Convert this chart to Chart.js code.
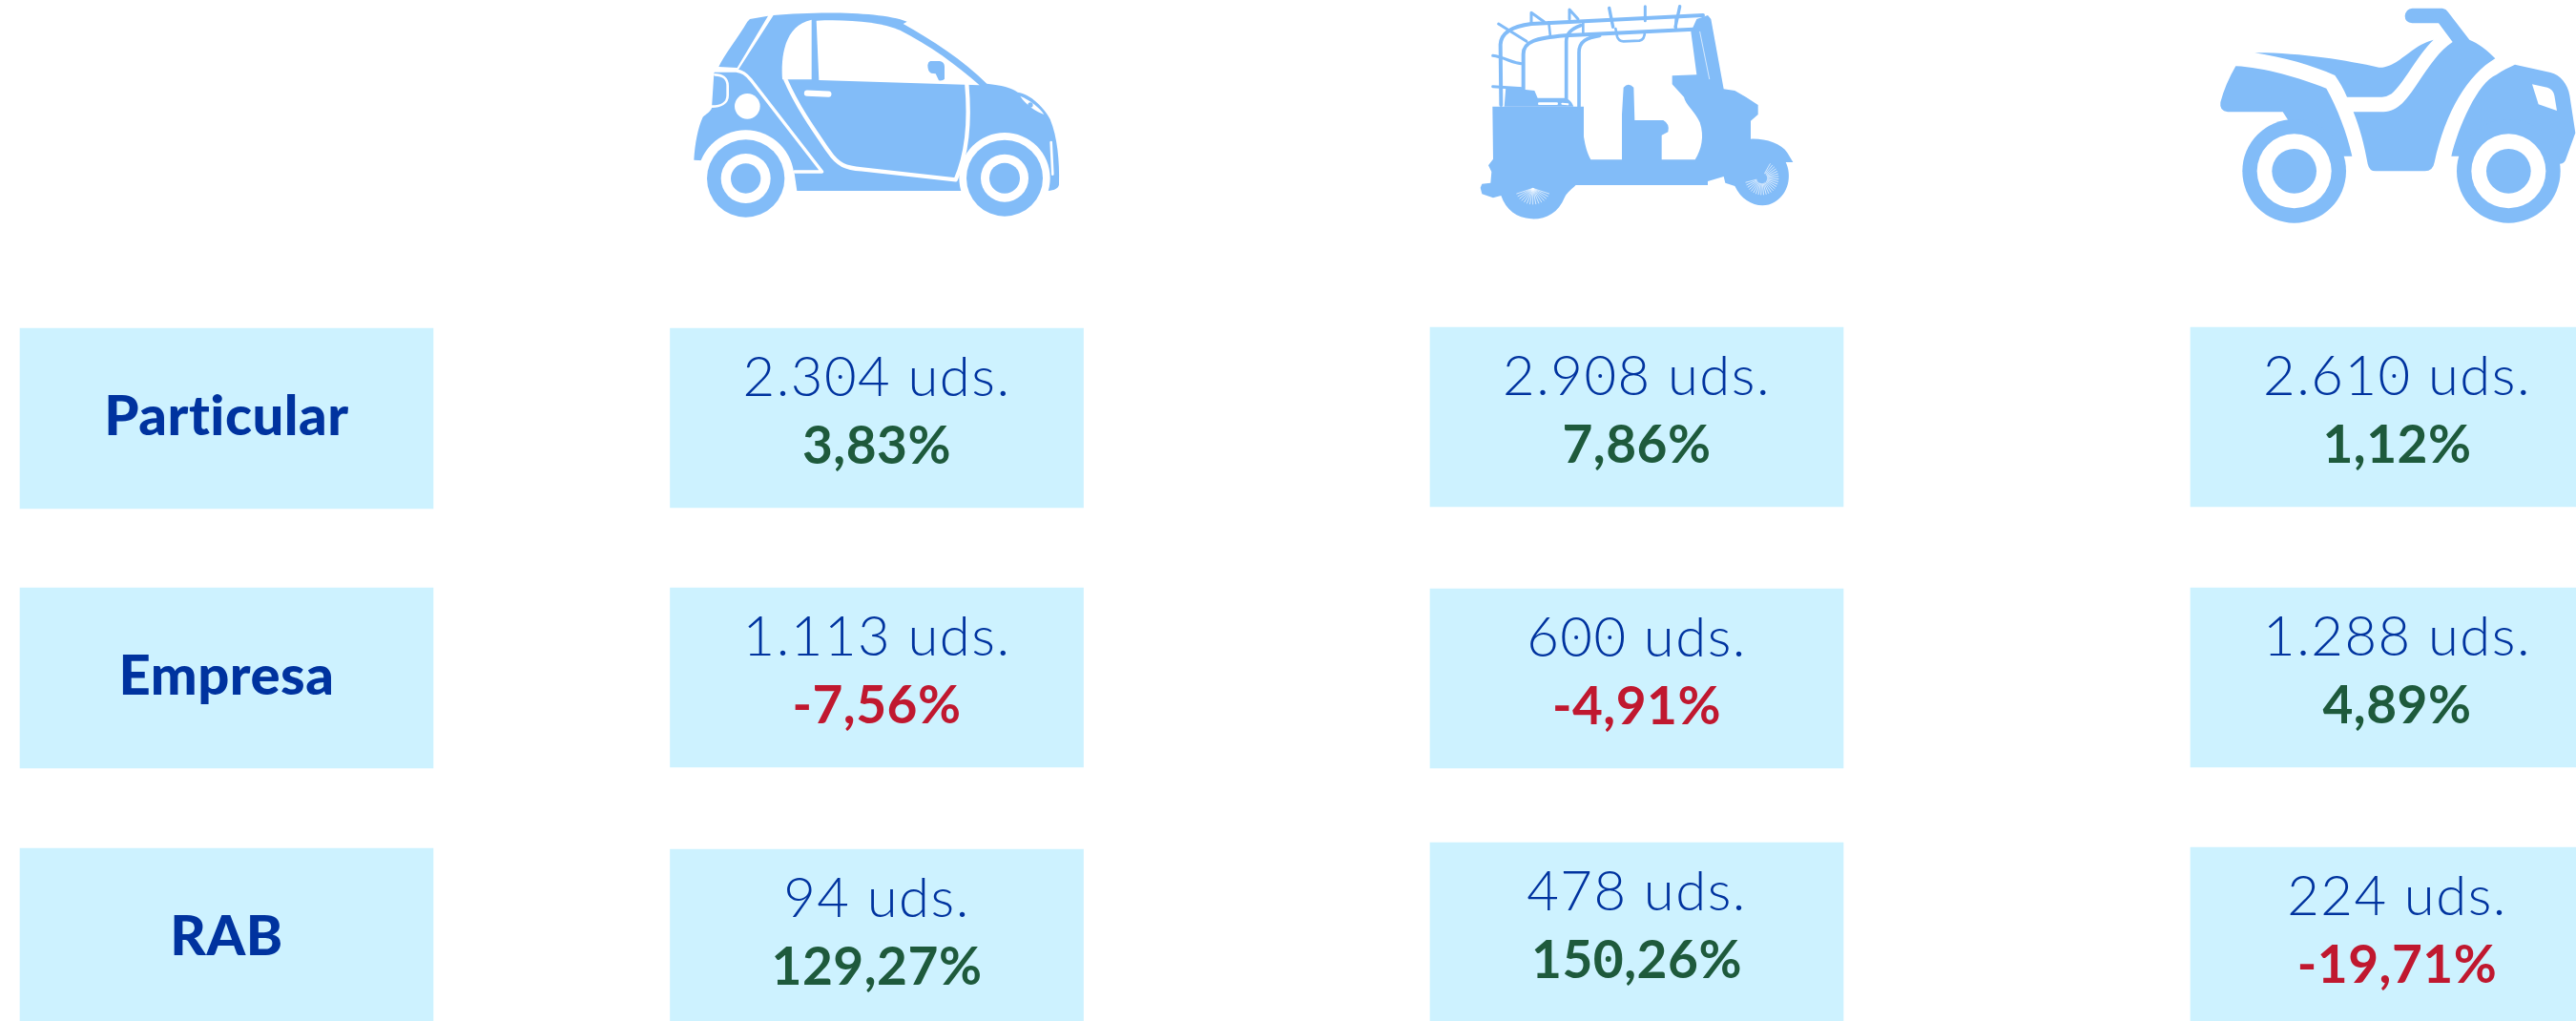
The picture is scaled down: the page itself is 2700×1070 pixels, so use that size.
<!DOCTYPE html>
<html>
<head>
<meta charset="utf-8">
<title>Particular, Empresa, RAB</title>
<script src="https://cdn.jsdelivr.net/npm/chart.js@4"></script>
<style>
html, body { margin: 0; padding: 0; background: #fff; overflow: hidden; }
#wrap { width: 2700px; height: 1070px; }
</style>
</head>
<body>
<div id="wrap"><canvas id="tabla" width="2700" height="1070"></canvas></div>
<script>
// datos
var filas = ['Particular', 'Empresa', 'RAB'];
var vehiculos = ['Coche', 'Mototaxi', 'Quad'];
var udsCoche = [2304, 1113, 94];
var udsMototaxi = [2908, 600, 478];
var udsQuad = [2610, 1288, 224];
var pctCoche = [3.83, -7.56, 129.27];
var pctMototaxi = [7.86, -4.91, 150.26];
var pctQuad = [1.12, 4.89, -19.71];

// layout of the table, in axis units (1 unit = 1px)
var anchoCelda = 433;
var centrosCol = [237.5, 919, 1715.5, 2512.5];
var topes = [
    [344, 344, 343, 343],
    [616, 616, 617, 616],
    [889, 890, 883, 888]
];
var bases = [
    [533, 532, 531, 531],
    [805, 804, 805, 804],
    [1070, 1070, 1070, 1070]
];

var AZUL = '#00339f', VERDE = '#1e5a3c', ROJO = '#c0182f', CELDA = '#cdf2ff', ICONO = '#82bcf8';
var udsPorVehiculo = [udsCoche, udsMototaxi, udsQuad];
var pctPorVehiculo = [pctCoche, pctMototaxi, pctQuad];

function miles(n) {
    return String(n).replace(/\B(?=(\d{3})+$)/g, '.');
}
function coma(n) {
    return n.toFixed(2).replace('.', ',') + '%';
}

var celdas = [];
var textos = [];
filas.forEach(function (fila, f) {
    celdas.push({ x: centrosCol[0], y: [topes[f][0], bases[f][0]] });
    textos.push({ nombre: fila });
    vehiculos.forEach(function (v, c) {
        celdas.push({ x: centrosCol[c + 1], y: [topes[f][c + 1], bases[f][c + 1]] });
        textos.push({ uds: miles(udsPorVehiculo[c][f]) + ' uds.', pct: coma(pctPorVehiculo[c][f]), neg: pctPorVehiculo[c][f] < 0 });
    });
});

// text with the dotted zero of the original typeface
function texto(ctx, s, cx, y, font, color, esp, rDot) {
    ctx.font = font;
    ctx.letterSpacing = esp + 'px';
    ctx.fillStyle = color;
    ctx.textAlign = 'left';
    ctx.textBaseline = 'alphabetic';
    var w = ctx.measureText(s).width;
    var x0 = cx - w / 2;
    ctx.fillText(s, x0, y);
    if (rDot) {
        for (var i = 0; i < s.length; i++) {
            if (s[i] === '0') {
                var a = ctx.measureText(s.slice(0, i)).width;
                var b = ctx.measureText('0').width - esp;
                ctx.beginPath();
                ctx.arc(x0 + a + b / 2, y - 20, rDot, 0, Math.PI * 2);
                ctx.fill();
            }
        }
    }
    ctx.letterSpacing = '0px';
}

var textosCeldas = {
    id: 'textosCeldas',
    afterDatasetsDraw: function (chart) {
        var ctx = chart.ctx;
        var meta = chart.getDatasetMeta(0);
        ctx.save();
        meta.data.forEach(function (bar, i) {
            var t = textos[i];
            var top = Math.min(bar.y, bar.base);
            if (t.nombre) {
                texto(ctx, t.nombre, bar.x, top + 112, '900 58px Lato', AZUL, 0.5, 0);
            } else {
                texto(ctx, t.uds, bar.x, top + 71, '300 58px Lato', AZUL, 1.5, 2);
                texto(ctx, t.pct, bar.x, top + 142, '700 55px Lato', t.neg ? ROJO : VERDE, 0.5, 3);
            }
        });
        ctx.restore();
    }
};

// silhouettes, coordinates in a 3x working grid
function circulo(ctx, x, y, r, color) {
    ctx.fillStyle = color;
    ctx.beginPath();
    ctx.arc(x, y, r, 0, Math.PI * 2);
    ctx.fill();
}
function relleno(ctx, d, color) {
    ctx.fillStyle = color;
    ctx.fill(new Path2D(d));
}
function trazo(ctx, d, color, w) {
    ctx.strokeStyle = color;
    ctx.lineWidth = w;
    ctx.lineCap = 'round';
    ctx.lineJoin = 'round';
    ctx.stroke(new Path2D(d));
}

function dibujaCoche(ctx) {
    relleno(ctx, 'M288,60 L345,50 L248,213 L190,210 C205,175 250,120 280,68 Z', ICONO);
    relleno(ctx, 'M362,48 C500,36 700,36 782,68 L770,75 C860,125 960,190 1033,263 C1080,268 1110,275 1130,290 C1170,295 1215,340 1232,375 C1255,430 1262,510 1260,575 C1262,592 1245,598 1225,600 L436,600 L428,545 L300,545 L140,505 L112,503 C115,450 125,400 140,368 C150,360 165,350 168,340 L175,232 L178,222 L250,222 Z', ICONO);
    relleno(ctx, 'M482,62 L482,250 L390,250 C385,180 395,80 482,62 Z', '#fff');
    relleno(ctx, 'M497,65 C600,60 700,70 760,95 C850,140 940,205 1010,268 L505,252 Z', '#fff');
    relleno(ctx, 'M855,192 L885,192 Q900,195 900,210 L900,248 Q895,255 882,253 L872,232 L858,230 Q847,225 847,205 Q848,195 855,192 Z', ICONO);
    trazo(ctx, 'M400,250 C440,340 490,410 535,475 C565,520 590,528 640,532 L935,565 C955,520 985,430 970,265', '#fff', 13);
    trazo(ctx, 'M468,293 L535,296', '#fff', 19);
    trazo(ctx, 'M178,222 L245,222 C265,225 275,232 290,250 L515,540 L428,540', '#fff', 10);
    trazo(ctx, 'M178,235 C200,235 218,245 218,270 L218,300 C218,325 195,335 168,335', '#fff', 8);
    circulo(ctx, 280, 334, 40, '#fff');
    relleno(ctx, 'M1138,302 C1170,315 1200,340 1213,360 C1190,352 1155,330 1138,302 Z', '#fff');
    circulo(ctx, 1170, 330, 8, ICONO);
    trazo(ctx, 'M1235,447 L1240,548', '#fff', 8);
    circulo(ctx, 1089, 560, 143, '#fff');
    circulo(ctx, 275, 561, 152, '#fff');
    [[275, 561, 122, 78, 47], [1089, 560, 120, 75, 48]].forEach(function (r) {
        circulo(ctx, r[0], r[1], r[2], ICONO);
        circulo(ctx, r[0], r[1], r[3], '#fff');
        circulo(ctx, r[0], r[1], r[4], ICONO);
    });
}

function dibujaMototaxi(ctx) {
    relleno(ctx, 'M103,335 L390,335 L390,430 C395,460 400,480 412,502 L510,502 L510,360 L515,275 Q530,258 547,275 L550,378 L640,378 Q662,390 655,415 L635,425 L635,502 L740,502 C760,470 770,430 755,385 C740,350 710,330 705,305 L668,265 L668,238 L745,235 L727,100 L745,60 L780,48 L790,60 L830,280 L865,285 L900,305 L938,330 L938,360 L915,380 L915,437 C960,435 1010,450 1030,480 L1048,510 L1025,510 C1045,550 1035,610 990,635 C950,660 890,640 865,585 L835,575 L830,555 L780,570 L780,582 L365,582 C345,600 335,610 330,620 C310,670 270,690 225,688 C180,685 145,660 130,615 L105,622 L70,610 L65,590 L70,578 L97,575 L100,540 L90,520 L105,500 Z', ICONO);
    relleno(ctx, 'M145,275 L235,285 L245,308 L330,308 C345,310 355,325 358,335 L140,335 Z', ICONO);
    // armazon
    trazo(ctx, 'M130,330 L128,140 C130,100 170,82 225,75 L765,48', ICONO, 12);
    trazo(ctx, 'M200,285 L200,170 C200,130 240,120 330,112 L735,92', ICONO, 12);
    trazo(ctx, 'M335,315 L335,130 C335,105 350,90 380,80', ICONO, 11);
    trazo(ctx, 'M375,335 L375,165 C375,130 400,118 440,112', ICONO, 11);
    trazo(ctx, 'M490,90 L495,115 Q500,130 515,130 L565,128 Q582,125 582,100', ICONO, 8);
    trazo(ctx, 'M225,70 L225,40 L265,68', ICONO, 9);
    trazo(ctx, 'M345,60 L345,30 L372,60', ICONO, 9);
    trazo(ctx, 'M470,25 L482,85', ICONO, 10);
    trazo(ctx, 'M583,20 L583,65', ICONO, 9);
    trazo(ctx, 'M692,20 L678,85', ICONO, 10);
    trazo(ctx, 'M122,75 L210,130', ICONO, 9);
    trazo(ctx, 'M104,175 C140,180 170,200 195,200', ICONO, 9);
    trazo(ctx, 'M104,272 L198,278', ICONO, 9);
    trazo(ctx, 'M280,70 L285,115', ICONO, 8);
    trazo(ctx, 'M388,70 L388,110', ICONO, 8);
    trazo(ctx, 'M680,55 L680,90', ICONO, 8);
    // huecos
    trazo(ctx, 'M250,326 L305,326', '#fff', 8);
    trazo(ctx, 'M322,326 L340,328', '#fff', 6);
    trazo(ctx, 'M755,100 L785,248', '#fff', 2);
    // radios de las ruedas
    ctx.strokeStyle = '#fff';
    ctx.lineWidth = 2;
    for (var a = 20; a <= 160; a += 10) {
        var r = a * Math.PI / 180;
        ctx.beginPath();
        ctx.moveTo(230 + 2 * Math.cos(r), 592 + 2 * Math.sin(r));
        ctx.lineTo(230 + 54 * Math.cos(r), 592 + 50 * Math.sin(r));
        ctx.stroke();
    }
    for (var b = -60; b <= 170; b += 9) {
        var q = b * Math.PI / 180;
        ctx.beginPath();
        ctx.moveTo(950 + 18 * Math.cos(q), 560 + 18 * Math.sin(q));
        ctx.lineTo(950 + 52 * Math.cos(q), 560 + 52 * Math.sin(q));
        ctx.stroke();
    }
}

function dibujaQuad(ctx) {
    relleno(ctx, 'M130,208 C220,212 330,245 415,278 C450,340 480,420 496,491 L470,491 L314,450 L295,378 L278,352 L105,352 Q78,350 82,322 C92,285 108,245 130,208 Z', ICONO);
    relleno(ctx, 'M190,166 C330,165 480,190 580,212 C620,215 660,175 690,155 C710,140 735,130 752,125 C700,175 660,260 620,295 Q605,305 590,305 L480,305 C470,280 455,255 442,237 C370,205 280,180 190,166 Z', ICONO);
    relleno(ctx, 'M500,352 L595,352 C640,352 670,310 700,265 C740,205 770,160 812,132 L768,73 L685,73 Q662,70 662,50 Q665,28 685,26 L780,26 Q792,28 798,38 L865,125 C890,135 925,160 946,184 C860,235 790,350 755,510 Q750,538 725,538 L570,538 Q550,538 545,515 C535,460 520,400 500,352 Z', ICONO);
    relleno(ctx, 'M1008,203 L1120,228 C1150,235 1175,265 1180,300 L1198,418 L1170,495 Q1165,515 1150,515 L830,491 L808,491 C830,400 890,260 950,235 C970,220 990,212 1008,203 Z', ICONO);
    relleno(ctx, 'M1062,265 L1110,275 Q1128,280 1132,300 L1140,348 L1082,328 Z', '#fff');
    [314, 988].forEach(function (x) {
        circulo(ctx, x, 538, 163, ICONO);
        circulo(ctx, x, 538, 117, '#fff');
        circulo(ctx, x, 538, 70, ICONO);
    });
}

var iconos = {
    id: 'iconos',
    beforeDatasetsDraw: function (chart) {
        var ctx = chart.ctx;
        var dibujos = [[690, dibujaCoche], [1530, dibujaMototaxi], [2300, dibujaQuad]];
        dibujos.forEach(function (d) {
            ctx.save();
            ctx.translate(d[0], 0);
            ctx.scale(1 / 3, 1 / 3);
            d[1](ctx);
            ctx.restore();
        });
    }
};

var ctx = document.getElementById('tabla').getContext('2d');
var myChart = new Chart(ctx, {
    type: 'bar',
    data: {
        datasets: [{
            label: 'celdas',
            data: celdas,
            backgroundColor: CELDA,
            borderWidth: 0,
            borderSkipped: false,
            barThickness: anchoCelda
        }]
    },
    options: {
        responsive: false,
        animation: false,
        layout: { padding: 0 },
        plugins: { legend: { display: false }, tooltip: { enabled: false }, title: { display: false } },
        scales: {
            x: { type: 'linear', min: 0, max: 2700, display: false, offset: false },
            y: { type: 'linear', min: 0, max: 1070, reverse: true, display: false }
        }
    },
    plugins: [iconos, textosCeldas]
});
</script>
</body>
</html>
